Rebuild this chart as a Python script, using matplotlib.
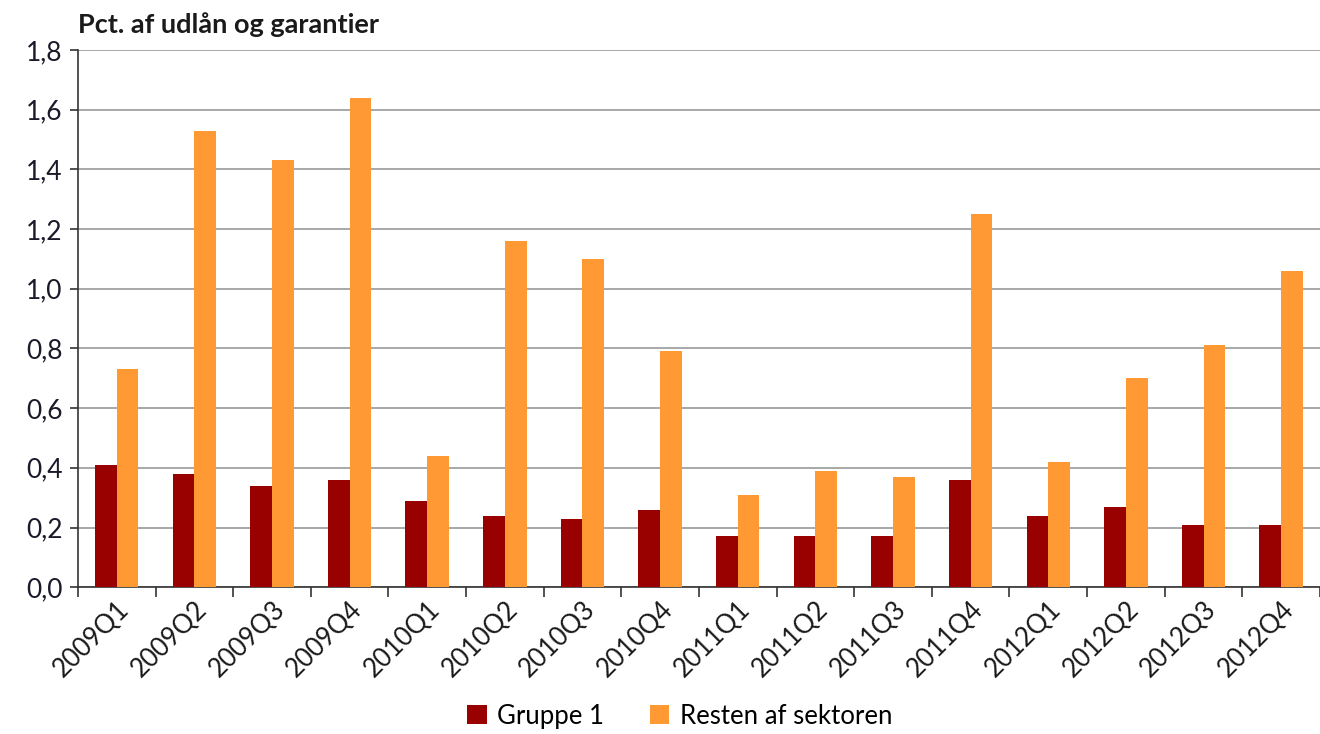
import matplotlib.pyplot as plt
import numpy as np
from matplotlib.ticker import FuncFormatter, FixedLocator

# --- Data ---
kvartaler = ["2009Q1", "2009Q2", "2009Q3", "2009Q4",
             "2010Q1", "2010Q2", "2010Q3", "2010Q4",
             "2011Q1", "2011Q2", "2011Q3", "2011Q4",
             "2012Q1", "2012Q2", "2012Q3", "2012Q4"]
gruppe1 = [0.41, 0.38, 0.34, 0.36, 0.29, 0.24, 0.23, 0.26,
           0.17, 0.17, 0.17, 0.36, 0.24, 0.27, 0.21, 0.21]
resten = [0.73, 1.53, 1.43, 1.64, 0.44, 1.16, 1.10, 0.79,
          0.31, 0.39, 0.37, 1.25, 0.42, 0.70, 0.81, 1.06]

plt.rcParams['font.family'] = ['Lato', 'DejaVu Sans']

fig = plt.figure(figsize=(13.2, 7.34), dpi=100)
ax = fig.add_axes([0.059, 0.2, 0.941, 0.732])

x = np.arange(len(kvartaler))
w = 0.28
ax.bar(x - w/2, gruppe1, width=w, color='#990000', label='Gruppe 1', zorder=3)
ax.bar(x + w/2, resten, width=w, color='#FF9933', label='Resten af sektoren', zorder=3)

ax.set_xlim(-0.5, len(kvartaler) - 0.5)
ax.set_ylim(0, 1.8)
ax.set_yticks(np.arange(0, 1.81, 0.2))
ax.yaxis.set_major_formatter(FuncFormatter(lambda v, p: f"{v:.1f}".replace('.', ',')))
ax.yaxis.grid(True, color='#999999', linewidth=1.2, zorder=0)

ax.set_xticks(x)
ax.set_xticklabels(kvartaler, rotation=45, ha='right', rotation_mode='anchor')
ax.xaxis.set_minor_locator(FixedLocator(np.arange(-0.5, len(kvartaler), 1)))
ax.tick_params(axis='x', which='major', length=0, pad=7, labelsize=18.5, colors='#1a1a1a')
ax.tick_params(axis='x', which='minor', length=7, width=1.2, direction='out', color='#333333')
ax.tick_params(axis='y', length=6, width=1.2, labelsize=19, colors='#333333',
               labelcolor='#1a1a2a', pad=5)

for s in ['top', 'right']:
    ax.spines[s].set_visible(False)
for s in ['left', 'bottom']:
    ax.spines[s].set_color('#333333')
    ax.spines[s].set_linewidth(1.2)

fig.text(0.059, 0.95, "Pct. af udlån og garantier", fontsize=19.5, fontweight='bold',
         color='#1a1a1a', va='bottom', ha='left')

fig.legend(loc='lower center', bbox_to_anchor=(0.515, 0.0), ncol=2, frameon=False,
           fontsize=18.5, handlelength=0.75, handleheight=0.75, handletextpad=0.4,
           columnspacing=1.8, borderaxespad=0.1, borderpad=0.1)

fig.savefig('out.png', dpi=100)
